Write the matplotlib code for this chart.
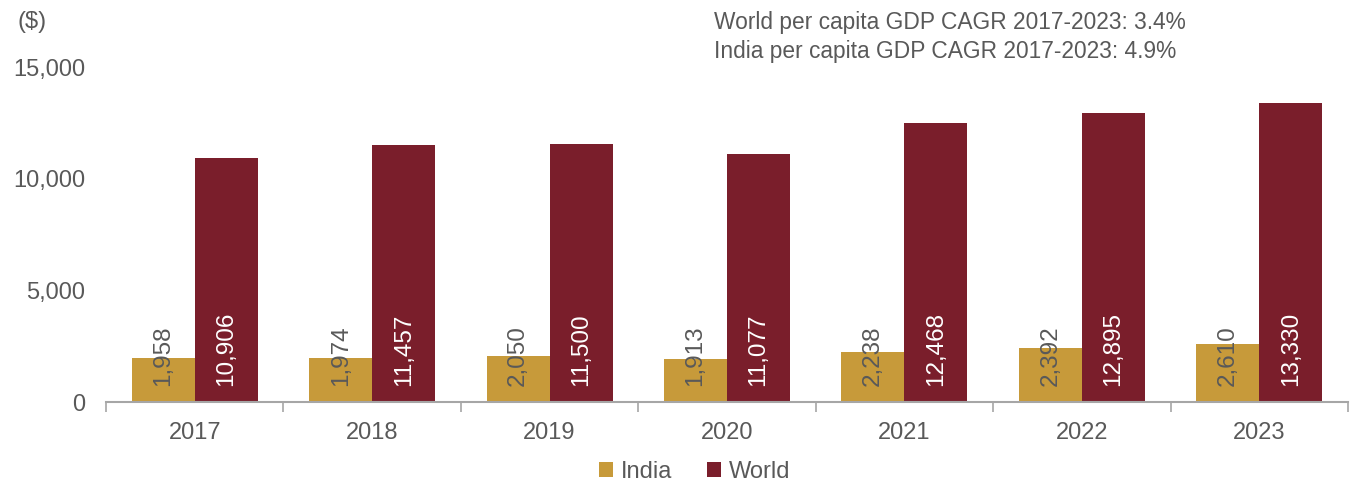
"""Per capita GDP: India vs World, 2017-2023."""

import matplotlib.pyplot as plt
import numpy as np
from matplotlib.ticker import FuncFormatter

years = ["2017", "2018", "2019", "2020", "2021", "2022", "2023"]
india = [1958, 1974, 2050, 1913, 2238, 2392, 2610]
world = [10906, 11457, 11500, 11077, 12468, 12895, 13330]
cagr_notes = [
    "World per capita GDP CAGR 2017-2023: 3.4%",
    "India per capita GDP CAGR 2017-2023: 4.9%",
]

GOLD = "#C79A3A"
MAROON = "#7A1E2B"
TEXT = "#595959"
AXIS = "#A6A6A6"

plt.rcParams["font.family"] = ["Liberation Sans", "DejaVu Sans"]

fig = plt.figure(figsize=(13.54, 4.81), dpi=100)
ax = fig.add_axes([0.0783, 0.1622, 0.9173, 0.6985])

x = np.arange(len(years))
width = 0.355
bars_india = ax.bar(x - width / 2, india, width, color=GOLD, label="India")
bars_world = ax.bar(x + width / 2, world, width, color=MAROON, label="World")

# value labels sit near the base of each bar, rotated
for bars, values, colour in ((bars_india, india, TEXT), (bars_world, world, "white")):
    for bar, v in zip(bars, values):
        ax.annotate(f"{v:,}", (bar.get_x() + bar.get_width() / 2, 0),
                    xytext=(0, 12), textcoords="offset points",
                    rotation=90, ha="center", va="bottom",
                    fontsize=17.5, color=colour)

ax.set_xlim(-0.5, len(years) - 0.5)
ax.set_ylim(0, 15000)
ax.set_yticks([0, 5000, 10000, 15000])
ax.yaxis.set_major_formatter(FuncFormatter(lambda v, _: f"{v:,.0f}"))

ax.set_xticks(x)
ax.set_xticklabels(years)
ax.set_xticks(np.arange(len(years) + 1) - 0.5, minor=True)
ax.tick_params(axis="x", which="major", length=0, pad=14, labelsize=17, labelcolor=TEXT)
ax.tick_params(axis="x", which="minor", length=7, width=1.2, color=AXIS)
ax.tick_params(axis="y", length=0, pad=15, labelsize=17, labelcolor=TEXT)

for side in ("top", "right", "left"):
    ax.spines[side].set_visible(False)
ax.spines["bottom"].set_color(AXIS)
ax.spines["bottom"].set_linewidth(1.5)

fig.text(0.013, 0.955, "($)", fontsize=17, color=TEXT, va="center", ha="left")
fig.text(0.527, 0.953, cagr_notes[0], fontsize=16.4, color=TEXT, va="center", ha="left")
fig.text(0.527, 0.892, cagr_notes[1], fontsize=16.4, color=TEXT, va="center", ha="left")

fig.legend(loc="center", bbox_to_anchor=(0.513, 0.018), ncol=2, frameon=False,
           fontsize=17, labelcolor=TEXT, handlelength=0.6, handleheight=0.6,
           handletextpad=0.3, columnspacing=1.5)

fig.savefig("out.png", dpi=100)
